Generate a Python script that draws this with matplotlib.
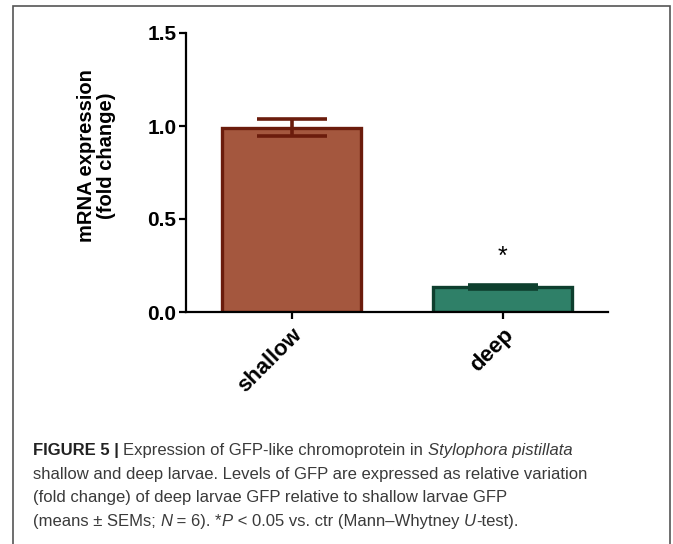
import matplotlib
matplotlib.use('Agg')
import matplotlib.pyplot as plt
from matplotlib.patches import Rectangle

plt.rcParams['font.family'] = 'sans-serif'
plt.rcParams['font.sans-serif'] = ['Liberation Sans', 'Arial', 'DejaVu Sans']

# data
groups = ['shallow', 'deep']
means = [0.99, 0.135]
sems = [0.045, 0.012]
face_colors = ['#A4573E', '#2F8068']
edge_colors = ['#6B1C0C', '#0E3F2E']
y_ticks = [0.0, 0.5, 1.0, 1.5]

caption_lines = [
    [('FIGURE 5 | ', 'bold', 'normal'),
     ('Expression of GFP-like chromoprotein in ', 'normal', 'normal'),
     ('Stylophora pistillata', 'normal', 'italic')],
    [('shallow and deep larvae. Levels of GFP are expressed as relative variation', 'normal', 'normal')],
    [('(fold change) of deep larvae GFP relative to shallow larvae GFP', 'normal', 'normal')],
    [('(means \u00b1 SEMs; ', 'normal', 'normal'), ('N', 'normal', 'italic'),
     (' = 6). *', 'normal', 'normal'), ('P', 'normal', 'italic'),
     (' < 0.05 vs. ctr (Mann\u2013Whytney ', 'normal', 'normal'), ('U', 'normal', 'italic'),
     ('-test).', 'normal', 'normal')],
]

W, H = 673, 544
fig = plt.figure(figsize=(W / 100, H / 100), dpi=100)

# outer frame of the figure panel
fig.patches.append(Rectangle((13 / W, -0.05), (670 - 13) / W, (H - 6) / H + 0.05,
                             transform=fig.transFigure, fill=False,
                             edgecolor='#555555', linewidth=1.2))

ax = fig.add_axes([186 / W, 1 - 312 / H, (608 - 186) / W, (312 - 33) / H])
x = list(range(len(groups)))
ax.bar(x, means, width=0.66, color=face_colors, edgecolor=edge_colors, linewidth=2.4, zorder=2)
for xi, m, s, c in zip(x, means, sems, edge_colors):
    ax.errorbar(xi, m, yerr=s, color=c, capsize=25, capthick=2.6, elinewidth=2.6, zorder=3)

ax.set_xlim(-0.5, 1.5)
ax.set_ylim(0, 1.5)
ax.set_yticks(y_ticks)
ax.set_yticklabels(['%.1f' % t for t in y_ticks], fontsize=15, fontweight='bold')
ax.set_xticks(x)
ax.set_xticklabels(groups, rotation=45, ha='right', rotation_mode='anchor',
                   fontsize=16, fontweight='bold')

for sp in ['top', 'right']:
    ax.spines[sp].set_visible(False)
for sp in ['left', 'bottom']:
    ax.spines[sp].set_linewidth(1.6)
ax.tick_params(width=1.6, length=5, direction='out', pad=2)
ax.tick_params(axis='x', pad=4)

ax.set_ylabel('mRNA expression\n(fold change)', fontsize=14.5, fontweight='bold', linespacing=1.05)
ax.yaxis.set_label_coords(-0.166, 0.56)

ax.text(1, 0.26, '*', ha='center', va='baseline', fontsize=18)

# caption, written piece by piece so bold / italic runs line up
renderer = fig.canvas.get_renderer()
baselines = [455, 479, 502, 526]
for line, yb in zip(caption_lines, baselines):
    xp = 33
    for txt, weight, style in line:
        t = fig.text(xp / W, 1 - yb / H, txt, fontsize=12, fontweight=weight, fontstyle=style,
                     color='#222222' if weight == 'bold' else '#3a3a3a',
                     va='baseline', ha='left')
        bb = t.get_window_extent(renderer=renderer)
        xp = bb.x1

fig.savefig('out.png', dpi=100)
